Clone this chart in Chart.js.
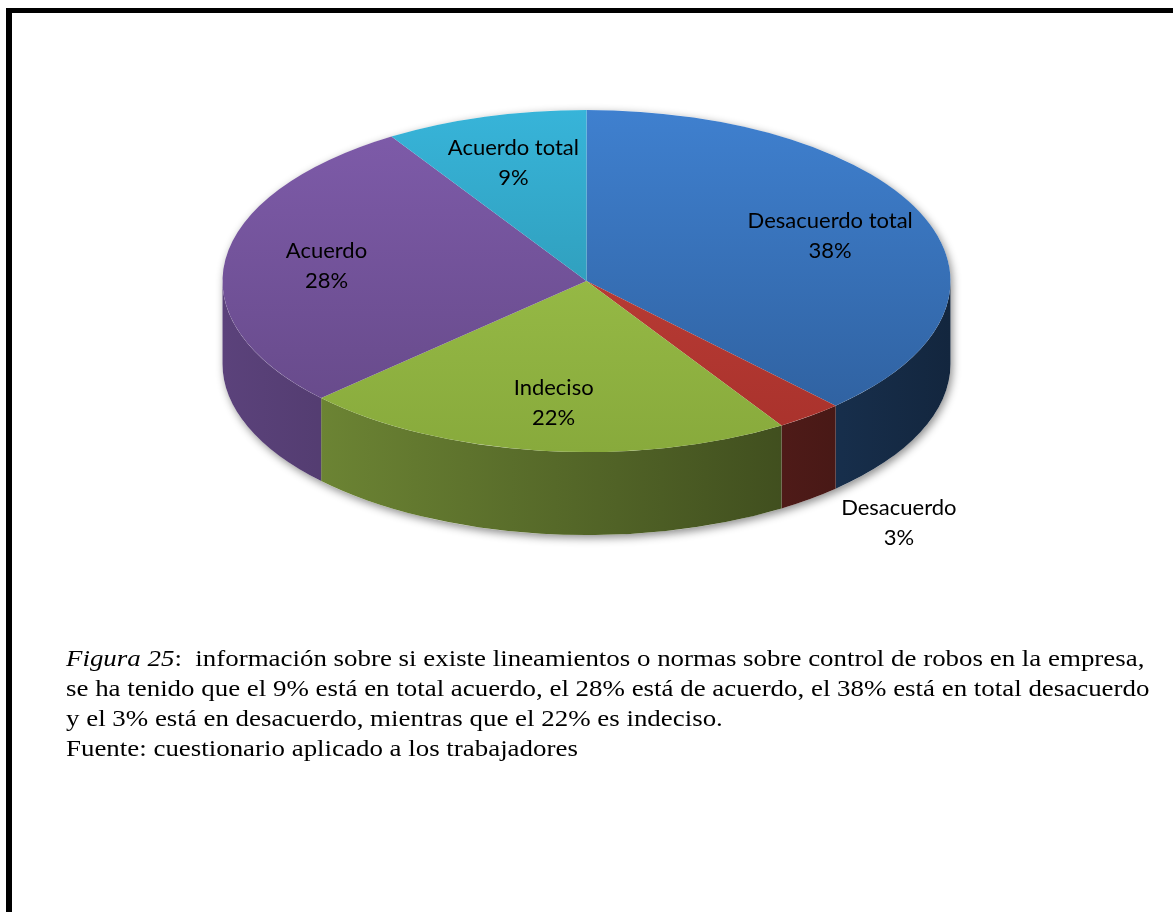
<!DOCTYPE html>
<html>
<head>
<meta charset="utf-8">
<script src="https://cdn.jsdelivr.net/npm/chart.js@4.4.0/dist/chart.umd.min.js"></script>
<style>
    html, body { margin: 0; padding: 0; background: #fff; width: 1173px; height: 912px; overflow: hidden; }
    #frame { position: absolute; left: 6px; top: 8px; width: 1200px; height: 950px; border-left: 6px solid #000; border-top: 5px solid #000; }
    #wrap { position: absolute; left: 0; top: 0; width: 1173px; height: 912px; }
    #caption { position: absolute; left: 66px; top: 644px; font-family: "Liberation Serif", "Times New Roman", serif; font-size: 23px; line-height: 30px; color: #000; white-space: nowrap; transform: scaleX(1.17); transform-origin: left top; }
</style>
</head>
<body>
<div id="frame"></div>
<div id="wrap"><canvas id="grafico"></canvas></div>
<div id="caption">
    <div><i>Figura 25</i>:&nbsp; información sobre si existe lineamientos o normas sobre control de robos en la empresa,</div>
    <div>se ha tenido que el 9% está en total acuerdo, el 28% está de acuerdo, el 38% está en total desacuerdo</div>
    <div>y el 3% está en desacuerdo, mientras que el 22% es indeciso.</div>
    <div>Fuente: cuestionario aplicado a los trabajadores</div>
</div>
<script>
const categorias = ['Desacuerdo total', 'Desacuerdo', 'Indeciso', 'Acuerdo', 'Acuerdo total'];
const porcentajes = [38, 3, 22, 28, 9];

// colores de la cara superior (arriba / abajo del degradado)
const coloresClaros = ['#3F80CF', '#C6443D', '#A2C74E', '#7F5CAB', '#37B4D9'];
const coloresOscuros = ['#2E5E9B', '#A8312B', '#88AA3C', '#644886', '#2A8CA4'];

// geometria de la torta en pantalla
const CX = 586.5, CY = 281, RX = 364, RY = 171, DEPTH = 83;

function shade(hex, f) {
    var n = parseInt(hex.slice(1), 16);
    var r = Math.round(((n >> 16) & 255) * f);
    var g = Math.round(((n >> 8) & 255) * f);
    var b = Math.round((n & 255) * f);
    return 'rgb(' + r + ',' + g + ',' + b + ')';
}

const pie3d = {
    id: 'pie3d',
    beforeDatasetsDraw: function (chart) {
        var ctx = chart.ctx;
        var arcs = chart.getDatasetMeta(0).data;
        var ax = arcs[0].x, ay = arcs[0].y, r = arcs[0].outerRadius;

        // sombra bajo la base
        ctx.save();
        ctx.shadowColor = 'rgba(0,0,0,0.45)';
        ctx.shadowBlur = 8;
        ctx.shadowOffsetX = 2;
        ctx.shadowOffsetY = 3;
        ctx.beginPath();
        ctx.ellipse(ax, CY, r, RY, 0, Math.PI, 0);
        ctx.ellipse(ax, CY + DEPTH, r, RY, 0, 0, Math.PI);
        ctx.closePath();
        ctx.fillStyle = '#fff';
        ctx.fill();
        ctx.restore();

        // paredes laterales (solo la mitad delantera)
        arcs.forEach(function (arc, i) {
            var a0 = Math.max(arc.startAngle, 0);
            var a1 = Math.min(arc.endAngle, Math.PI);
            if (a1 <= a0) return;
            ctx.beginPath();
            ctx.ellipse(ax, CY, r, RY, 0, a0, a1);
            ctx.ellipse(ax, CY + DEPTH, r, RY, 0, a1, a0, true);
            ctx.closePath();
            var g = ctx.createLinearGradient(ax - r, 0, ax + r, 0);
            g.addColorStop(0, shade(coloresClaros[i], 0.72));
            g.addColorStop(1, shade(coloresClaros[i], 0.3));
            ctx.fillStyle = g;
            ctx.fill();
        });

        // cara superior: se aplasta el circulo en elipse
        ctx.save();
        ctx.translate(0, CY);
        ctx.scale(1, RY / r);
        ctx.translate(0, -ay);
    },
    afterDatasetsDraw: function (chart) {
        var ctx = chart.ctx;
        ctx.restore();
        var arcs = chart.getDatasetMeta(0).data;
        var ax = arcs[0].x;
        ctx.save();
        ctx.fillStyle = '#000';
        ctx.font = '22px Lato, "Open Sans", sans-serif';
        ctx.textAlign = 'center';
        ctx.textBaseline = 'middle';
        arcs.forEach(function (arc, i) {
            var mid = (arc.startAngle + arc.endAngle) / 2;
            var x, y;
            if (porcentajes[i] < 5) {
                x = ax + RX * 1.4 * Math.cos(mid);
                y = CY + RY * 1.3 * Math.sin(mid) + DEPTH * 0.8;
            } else {
                x = ax + RX * 0.72 * Math.cos(mid);
                y = CY + RY * 0.72 * Math.sin(mid);
            }
            ctx.fillText(categorias[i], x, y - 15);
            ctx.fillText(porcentajes[i] + '%', x, y + 15);
        });
        ctx.restore();
    }
};

new Chart(document.getElementById('grafico'), {
    type: 'pie',
    data: {
        labels: categorias,
        datasets: [{
            data: porcentajes,
            borderWidth: 0,
            backgroundColor: function (context) {
                var chart = context.chart;
                var area = chart.chartArea;
                var i = context.dataIndex;
                if (!area) return coloresClaros[i];
                var g = chart.ctx.createLinearGradient(0, area.top, 0, area.bottom);
                g.addColorStop(0, coloresClaros[i]);
                g.addColorStop(1, coloresOscuros[i]);
                return g;
            }
        }]
    },
    options: {
        responsive: true,
        maintainAspectRatio: false,
        animation: false,
        events: [],
        layout: {
            padding: { left: CX - RX, right: 1173 - CX - RX, top: 0, bottom: 912 - 2 * RX }
        },
        plugins: {
            legend: { display: false },
            tooltip: { enabled: false }
        }
    },
    plugins: [pie3d]
});
</script>
</body>
</html>
